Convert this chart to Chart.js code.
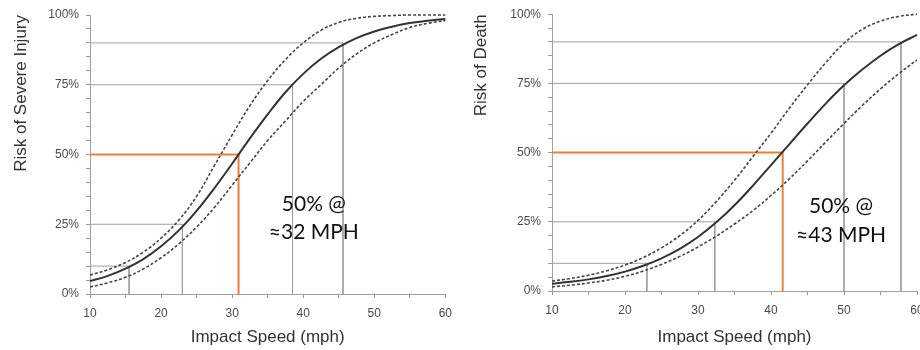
<!DOCTYPE html>
<html>
<head>
<meta charset="utf-8">
<script src="https://cdn.jsdelivr.net/npm/chart.js@4/dist/chart.umd.min.js"></script>
<style>
    html, body { margin: 0; padding: 0; background: #fff; overflow: hidden; }
    #wrap { position: relative; width: 920px; height: 350px; overflow: hidden; }
    .panel { position: absolute; top: 0; height: 350px; }
    #panel-1 { left: 0; width: 460px; }
    #panel-2 { left: 460px; width: 480px; }
</style>
</head>
<body>
<div id="wrap">
    <div class="panel" id="panel-1"><canvas id="container-1"></canvas></div>
    <div class="panel" id="panel-2"><canvas id="container-2"></canvas></div>
</div>
<script>
const speeds = [10, 12.5, 15, 17.5, 20, 22.5, 25, 27.5, 30, 32.5, 35, 37.5, 40, 42.5, 45, 47.5, 50, 52.5, 55, 57.5, 60];

// risk of severe injury (%)
const injuryMid = [4.6, 6.5, 9.1, 12.5, 17.1, 22.8, 29.8, 37.9, 46.7, 55.8, 64.4, 72.3, 78.9, 84.3, 88.5, 91.7, 94.1, 95.8, 97.1, 97.9, 98.6];
const injuryHigh = [6.8, 8.7, 11.3, 15, 20, 26.5, 35, 46, 57, 67.5, 76.5, 84, 90, 94.5, 97.3, 98.8, 99.5, 99.8, 100, 100, 100];
const injuryLow = [2.5, 4, 6, 9, 13, 18, 24, 31, 39, 47, 55, 62, 69, 75, 81, 86, 90, 93, 95.5, 97, 98];

// risk of death (%)
const deathMid = [2.6, 3.3, 4.2, 5.4, 7, 9.1, 11.8, 15.2, 19.5, 24.8, 31, 38, 45.5, 53, 60.5, 67.7, 74.3, 80, 85, 89.2, 92.5];
const deathHigh = [3.6, 4.5, 5.7, 7.3, 9.4, 12.1, 15.6, 20, 25.5, 32.3, 40, 48.5, 57, 66, 74.5, 82.5, 89.5, 94.5, 97.5, 99.2, 100];
const deathLow = [1.5, 2.1, 2.9, 3.9, 5.3, 7.2, 9.6, 12.5, 15.9, 19.8, 24.2, 29, 34.5, 40.5, 47, 53.8, 60.5, 67, 73, 78.5, 83.5];

// reference levels and the speed where the solid curve reaches them
const levels = [10, 25, 50, 75, 90];
const injurySpeeds = [15.5, 23, 30.9, 38.5, 45.6];
const deathSpeeds = [23, 32.3, 41.6, 50, 57.8];

const injuryNote = ['50% @', '≈32 MPH'];
const deathNote = ['50% @', '≈43 MPH'];

const axisFont = "'Liberation Sans', Arial, sans-serif";

const toPoints = values => values.map((v, i) => ({ x: speeds[i], y: v }));

const curve = (values, dashed) => ({
    data: toPoints(values),
    borderColor: dashed ? '#444' : '#333',
    borderWidth: dashed ? 1.6 : 2,
    borderDash: dashed ? [3, 2] : [],
    pointRadius: 0,
    tension: 0.4,
    clip: 4,
});

const refLines = (crossSpeeds) => levels.map((level, i) => ({
    data: [{ x: 10, y: level }, { x: crossSpeeds[i], y: level }, { x: crossSpeeds[i], y: 0 }],
    borderColor: level === 50 ? '#e8803c' : '#a0a0a0',
    borderWidth: level === 50 ? 2 : 1,
    pointRadius: 0,
    tension: 0,
    clip: 4,
}));

// draws the "50% @ ..." note at a data position
const notePlugin = {
    id: 'note',
    afterDatasetsDraw(chart) {
        const note = chart.options.plugins.note;
        const { ctx, scales } = chart;
        ctx.save();
        ctx.font = "21px Lato, 'Open Sans', sans-serif";
        ctx.fillStyle = '#111';
        ctx.textAlign = 'center';
        ctx.textBaseline = 'middle';
        note.lines.forEach((line, i) => {
            ctx.fillText(line, scales.x.getPixelForValue(note.x), scales.y.getPixelForValue(note.y[i]));
        });
        ctx.restore();
    }
};

const renderPanel = (containerId, yTitle, mid, high, low, crossSpeeds, note, box) => {
    const chart = new Chart(document.getElementById(containerId), {
        type: 'line',
        data: {
            datasets: [curve(mid, false), curve(high, true), curve(low, true), ...refLines(crossSpeeds)],
        },
        options: {
            responsive: true,
            maintainAspectRatio: false,
            animation: false,
            layout: { padding: { top: box.top, right: box.right, left: 0, bottom: 0 } },
            plugins: {
                legend: { display: false },
                tooltip: { enabled: false },
                note: note,
            },
            scales: {
                x: {
                    type: 'linear',
                    min: 10,
                    max: 60,
                    afterFit: scale => { scale.height = box.xHeight; },
                    border: { color: '#a0a0a0' },
                    grid: { drawOnChartArea: false, drawTicks: true, tickLength: 4, color: '#999' },
                    ticks: {
                        stepSize: 5,
                        autoSkip: false,
                        maxRotation: 0,
                        padding: 8,
                        color: '#4a4a4a',
                        font: { family: axisFont, size: 12 },
                        callback: v => (v % 10 === 0 ? v : ''),
                    },
                    title: {
                        display: true,
                        text: 'Impact Speed (mph)',
                        color: '#333',
                        font: { family: axisFont, size: 17 },
                        padding: { top: 0, bottom: 2 },
                    },
                },
                y: {
                    min: 0,
                    max: 100,
                    afterFit: scale => { scale.width = box.yWidth; },
                    border: { color: '#a0a0a0' },
                    grid: { drawOnChartArea: false, drawTicks: true, tickLength: 4, color: '#999' },
                    ticks: {
                        stepSize: 5,
                        autoSkip: false,
                        padding: 7,
                        color: '#4a4a4a',
                        font: { family: axisFont, size: 12 },
                        callback: v => (v % 25 === 0 ? v + '%' : ''),
                    },
                    title: {
                        display: true,
                        text: yTitle,
                        align: 'end',
                        color: '#333',
                        font: { family: axisFont, size: 17 },
                        padding: { top: 11, bottom: 0 },
                    },
                },
            },
        },
        plugins: [notePlugin],
    });
    return chart;
}

renderPanel('container-1', 'Risk of Severe Injury', injuryMid, injuryHigh, injuryLow, injurySpeeds,
    { lines: injuryNote, x: 41.5, y: [32, 22] },
    { top: 15, right: 8, xHeight: 56, yWidth: 90 });

renderPanel('container-2', 'Risk of Death', deathMid, deathHigh, deathLow, deathSpeeds,
    { lines: deathNote, x: 49.6, y: [30.7, 20.3] },
    { top: 14, right: 23, xHeight: 59, yWidth: 92 });
</script>
</body>
</html>
